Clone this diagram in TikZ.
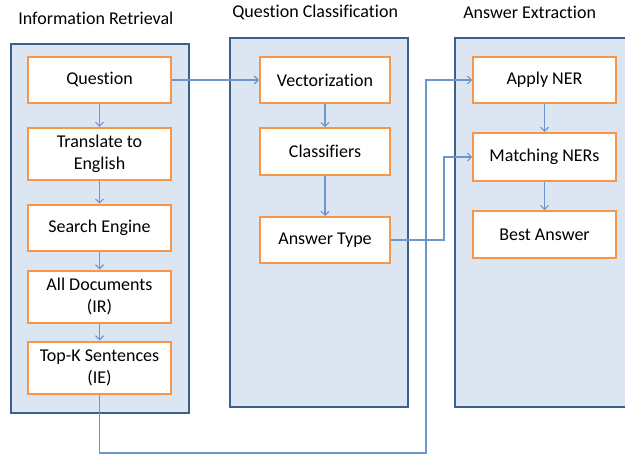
\documentclass[tikz,border=0pt]{standalone}
\usepackage{fontspec}
\setmainfont{Carlito}[Ligatures=NoCommon]
\usetikzlibrary{arrows.meta}

\definecolor{panelfill}{RGB}{220,230,242}
\definecolor{paneledge}{RGB}{60,96,140}
\definecolor{boxedge}{RGB}{247,150,70}
\definecolor{flow}{RGB}{110,150,205}

\tikzset{
  panel/.style={draw=paneledge, fill=panelfill, line width=1.4pt},
  stage/.style={draw=boxedge, fill=white, line width=1.5pt, align=center,
    inner sep=0pt, font=\fontsize{13.5}{16.5}\selectfont},
  heading/.style={anchor=west, inner sep=0pt, font=\fontsize{13.5}{16}\selectfont},
  flowline/.style={draw=flow, line width=0.8pt}
}

\begin{document}
\begin{tikzpicture}[x=0.75pt, y=-0.75pt, >={Straight Barb[length=3pt,width=6pt]}]
      \useasboundingbox (0,0) rectangle (625,456);

      % three columns
      \draw[panel] (11,44) rectangle (189,413);
      \draw[panel] (230,38) rectangle (408,407);
      \draw[panel] (455,38) rectangle (640,407);

      \node[heading] (hIR) at (18,18) {Information Retrieval};
      \node[heading] (hQC) at (232,12) {Question Classification};
      \node[heading] (hAE) at (463,12) {Answer Extraction};

      % information retrieval
      \node[stage, minimum width=107pt, minimum height=34.5pt] (quest) at (99.5,80) {Question};
      \node[stage, minimum width=107pt, minimum height=39pt] (trans) at (99.5,154) {Translate to\\English};
      \node[stage, minimum width=107pt, minimum height=35pt] (search) at (99.5,228) {Search Engine};
      \node[stage, minimum width=107pt, minimum height=39pt] (alldoc) at (99.5,296.5) {All Documents\\(IR)};
      \node[stage, minimum width=107pt, minimum height=39pt] (topk) at (99.5,367.5) {Top-K Sentences\\(IE)};

      % question classification
      \node[stage, minimum width=97.5pt, minimum height=34.5pt] (vect) at (325,80) {Vectorization};
      \node[stage, minimum width=97.5pt, minimum height=35pt] (classif) at (325,151.5) {Classifiers};
      \node[stage, minimum width=97.5pt, minimum height=34.5pt] (atype) at (325,240) {Answer Type};

      % answer extraction
      \node[stage, minimum width=107pt, minimum height=34.5pt] (ner) at (544.5,80) {Apply NER};
      \node[stage, minimum width=107pt, minimum height=36pt] (match) at (544.5,157) {Matching NERs};
      \node[stage, minimum width=107pt, minimum height=35pt] (best) at (544.5,234.5) {Best Answer};

      \foreach \a/\b in {quest/trans, trans/search, search/alldoc, alldoc/topk,
                         vect/classif, classif/atype, ner/match, match/best}
        \draw[flowline,->] (\a) -- (\b);

      \draw[flowline,->] (quest.east) -- (vect.west);
      \draw[flowline,->] (atype.east) -- ++(53,0) |- (match.west);
      \coordinate (low) at (426,453);
      \draw[flowline,->] (topk.south) |- (low) |- (ner.west);
\end{tikzpicture}
\end{document}
